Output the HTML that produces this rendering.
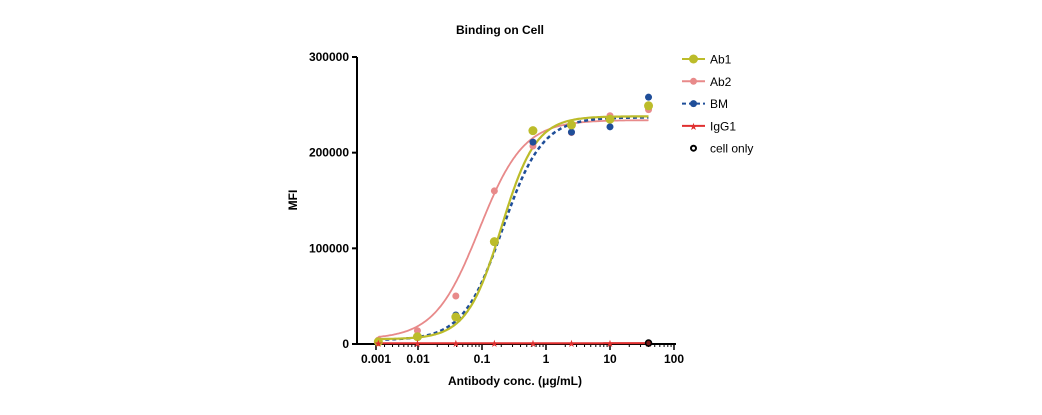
<!DOCTYPE html>
<html><head><meta charset="utf-8"><style>
body{margin:0;background:#fff;font-family:"Liberation Sans",Arial,sans-serif}
svg text{font-family:"Liberation Sans",Arial,sans-serif}
</style></head><body>
<svg id="c" width="1042" height="410">
<text x="500" y="34" text-anchor="middle" font-size="12" font-weight="bold">Binding on  Cell</text>
<text x="297" y="200" text-anchor="middle" font-size="12" font-weight="bold" transform="rotate(-90 297 200)">MFI</text>
<text x="515" y="385" text-anchor="middle" font-size="12" font-weight="bold">Antibody conc. (μg/mL)</text>
<g id="axes"></g><g id="plot"></g><g id="legend"></g>
</svg>
<script>
const concs=[0.0024,0.0098,0.039,0.156,0.625,2.5,10,40];
const ab1=[2400,7600,28200,107000,223000,229000,235000,249000];
const ab2=[4000,13900,50200,160000,207000,221000,238600,245000];
const bm=[3000,8000,30300,106000,211000,221500,227000,258000];
const igg1=[800,800,800,800,800,800,800,1000];
const cellOnlyConc=[40];
const cellOnly=[1000];
// 4PL fit params: bottom, top, ec50, hill
const fitAb1=[5000,238000,0.2,1.6];
const fitAb2=[5000,234000,0.09,1.25];
const fitBM=[4000,237000,0.21,1.4];
const fitIgG=[800,900,1,1];
const xTicks=[0.001,0.01,0.1,1,10,100];
const xTickLabels=["0.001","0.01","0.1","1","10","100"];
const yTicks=[0,100000,200000,300000];
const yTickLabels=["0","100000","200000","300000"];
const NS="http://www.w3.org/2000/svg";
const X0=357,Y0=344;
function sx(v){return Math.max(X0,418+Math.log10(v/0.01)*64);}
function sy(v){return 344-v/300000*287;}
function mk(t,a,p){const e=document.createElementNS(NS,t);for(const k in a)e.setAttribute(k,a[k]);(p||document.getElementById('plot')).appendChild(e);return e;}
const ax=document.getElementById('axes');
let e=mk('line',{x1:X0,y1:Y0,x2:676,y2:Y0,stroke:'#000','stroke-width':2},ax);

e=mk('line',{x1:X0,y1:Y0+1,x2:X0,y2:sy(300000),stroke:'#000','stroke-width':2},ax);

yTicks.forEach((v,i)=>{mk('line',{x1:X0-5,y1:sy(v),x2:X0,y2:sy(v),stroke:'#000','stroke-width':2},ax);
const t=mk('text',{x:X0-8,y:sy(v)+4,'text-anchor':'end','font-size':12,'font-weight':'bold'},ax);t.textContent=yTickLabels[i];
});
xTicks.forEach((v,i)=>{const px=i==0?X0+19:sx(v);mk('line',{x1:px,y1:Y0,x2:px,y2:Y0+6,stroke:'#000','stroke-width':1.5},ax);
const t=mk('text',{x:px,y:Y0+19,'text-anchor':'middle','font-size':12,'font-weight':'bold'},ax);t.textContent=xTickLabels[i];

if(i<xTicks.length-1&&i>0){for(let m=2;m<10;m++){const mx=sx(v*m);mk('line',{x1:mx,y1:Y0,x2:mx,y2:Y0+3,stroke:'#000','stroke-width':1},ax);}}});
for(let m=2;m<10;m++){const mx=sx(0.001*m);if(mx>X0+19)mk('line',{x1:mx,y1:Y0,x2:mx,y2:Y0+3,stroke:'#000','stroke-width':1},ax);}
function fit(p,x){return p[0]+(p[1]-p[0])/(1+Math.pow(p[2]/x,p[3]));}
function curve(p,color,dash,w,name){let d='';for(let i=0;i<=200;i++){const lx=Math.log10(0.0024)+i/200*(Math.log10(40)-Math.log10(0.0024));const x=Math.pow(10,lx);d+=(i?'L':'M')+sx(x).toFixed(1)+','+sy(fit(p,x)).toFixed(1);}
const el=mk('path',{d:d,fill:'none',stroke:color,'stroke-width':w,'stroke-dasharray':dash||'none'});
}
function pts(xs,ys,color,name,shape){xs.forEach((x,i)=>{let el;
if(shape==='star'){el=mk('text',{x:sx(x),y:sy(ys[i])+4,'text-anchor':'middle','font-size':10,fill:color});el.textContent='★';}
else if(shape==='ring'){el=mk('circle',{cx:sx(x),cy:sy(ys[i]),r:3,fill:'#7a1a1a',stroke:'#000','stroke-width':1.5});}
else el=mk('circle',{cx:sx(x),cy:sy(ys[i]),r:shape||3.5,fill:color});
});}
curve(fitAb2,'#e88a8a','',1.8,'ab2-fit-curve');
curve(fitBM,'#1f4e99','4,3',2.5,'bm-fit-curve');
curve(fitAb1,'#bcbc2a','',2.2,'ab1-fit-curve');
curve(fitIgG,'#e03030','',2,'igg1-fit-curve');
pts(concs,ab2,'#e88a8a','ab2-point',3.5);
pts(concs,bm,'#1f4e99','bm-point',3.5);
pts(concs,ab1,'#bcbc2a','ab1-point',4.5);
pts(concs,igg1,'#e03030','igg1-point','star');
pts(cellOnlyConc,cellOnly,'#000','cell-only-point','ring');
const lg=document.getElementById('legend');
const items=[["Ab1","#bcbc2a","",4.5,'circle'],["Ab2","#e88a8a","",3.5,'circle'],["BM","#1f4e99","4,3",3.5,'circle'],["IgG1","#e03030","",0,'star'],["cell only","#000","",0,'ring']];
items.forEach((it,i)=>{const y=59+i*22.3;const g=mk('g',{},lg);

if(it[4]!=='ring')mk('line',{x1:682,y1:y,x2:705,y2:y,stroke:it[1],'stroke-width':2,'stroke-dasharray':it[2]||'none'},g);
if(it[4]==='circle')mk('circle',{cx:693.5,cy:y,r:it[3],fill:it[1]},g);
else if(it[4]==='star'){const s=mk('text',{x:693.5,y:y+4,'text-anchor':'middle','font-size':10,fill:it[1]},g);s.textContent='★';}
else mk('circle',{cx:693.5,cy:y,r:2.5,fill:'#fff',stroke:'#000','stroke-width':2},g);
const t=mk('text',{x:710,y:y+4.5,'font-size':12},g);t.textContent=it[0];});
</script>
</body></html>
